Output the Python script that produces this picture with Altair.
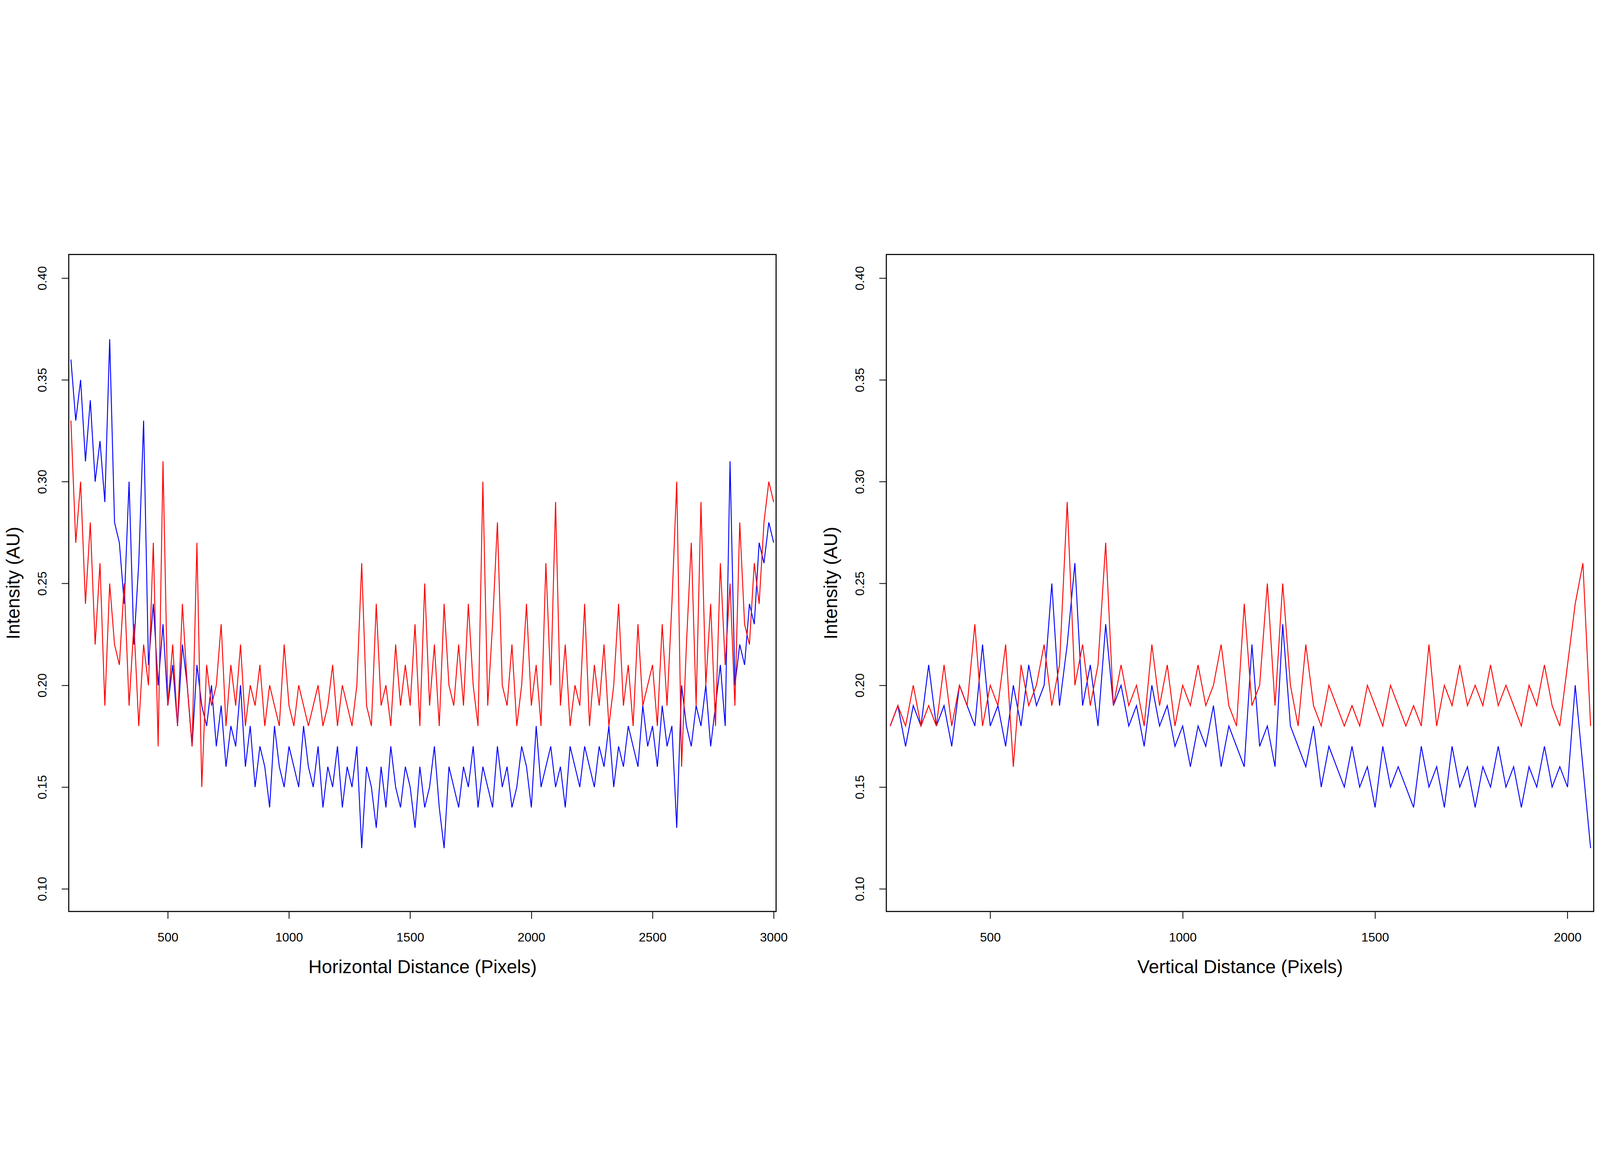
import altair as alt
import pandas as pd

# horizontal profile, sampled every 20 px from 100 to 3000
h_start, h_step = 100, 20
h_blue = [
    0.36, 0.33, 0.35, 0.31, 0.34, 0.30, 0.32, 0.29, 0.37, 0.28,
    0.27, 0.24, 0.30, 0.22, 0.26, 0.33, 0.21, 0.24, 0.20, 0.23,
    0.19, 0.21, 0.18, 0.22, 0.20, 0.17, 0.21, 0.19, 0.18, 0.20,
    0.17, 0.19, 0.16, 0.18, 0.17, 0.20, 0.16, 0.18, 0.15, 0.17,
    0.16, 0.14, 0.18, 0.16, 0.15, 0.17, 0.16, 0.15, 0.18, 0.16,
    0.15, 0.17, 0.14, 0.16, 0.15, 0.17, 0.14, 0.16, 0.15, 0.17,
    0.12, 0.16, 0.15, 0.13, 0.16, 0.14, 0.17, 0.15, 0.14, 0.16,
    0.15, 0.13, 0.16, 0.14, 0.15, 0.17, 0.14, 0.12, 0.16, 0.15,
    0.14, 0.16, 0.15, 0.17, 0.14, 0.16, 0.15, 0.14, 0.17, 0.15,
    0.16, 0.14, 0.15, 0.17, 0.16, 0.14, 0.18, 0.15, 0.16, 0.17,
    0.15, 0.16, 0.14, 0.17, 0.16, 0.15, 0.17, 0.16, 0.15, 0.17,
    0.16, 0.18, 0.15, 0.17, 0.16, 0.18, 0.17, 0.16, 0.19, 0.17,
    0.18, 0.16, 0.19, 0.17, 0.18, 0.13, 0.20, 0.18, 0.17, 0.19,
    0.18, 0.20, 0.17, 0.19, 0.21, 0.18, 0.31, 0.20, 0.22, 0.21,
    0.24, 0.23, 0.27, 0.26, 0.28, 0.27,
]
h_red = [
    0.33, 0.27, 0.30, 0.24, 0.28, 0.22, 0.26, 0.19, 0.25, 0.22,
    0.21, 0.25, 0.19, 0.23, 0.18, 0.22, 0.20, 0.27, 0.17, 0.31,
    0.19, 0.22, 0.18, 0.24, 0.20, 0.17, 0.27, 0.15, 0.21, 0.19,
    0.20, 0.23, 0.18, 0.21, 0.19, 0.22, 0.18, 0.20, 0.19, 0.21,
    0.18, 0.20, 0.19, 0.18, 0.22, 0.19, 0.18, 0.20, 0.19, 0.18,
    0.19, 0.20, 0.18, 0.19, 0.21, 0.18, 0.20, 0.19, 0.18, 0.20,
    0.26, 0.19, 0.18, 0.24, 0.19, 0.20, 0.18, 0.22, 0.19, 0.21,
    0.19, 0.23, 0.18, 0.25, 0.19, 0.22, 0.18, 0.24, 0.20, 0.19,
    0.22, 0.19, 0.24, 0.20, 0.18, 0.30, 0.19, 0.23, 0.28, 0.20,
    0.19, 0.22, 0.18, 0.20, 0.24, 0.19, 0.21, 0.18, 0.26, 0.20,
    0.29, 0.19, 0.22, 0.18, 0.20, 0.19, 0.24, 0.18, 0.21, 0.19,
    0.22, 0.18, 0.20, 0.24, 0.19, 0.21, 0.18, 0.23, 0.19, 0.20,
    0.21, 0.18, 0.23, 0.19, 0.24, 0.30, 0.16, 0.22, 0.27, 0.19,
    0.29, 0.20, 0.24, 0.18, 0.26, 0.21, 0.25, 0.19, 0.28, 0.23,
    0.22, 0.26, 0.24, 0.28, 0.30, 0.29,
]

# vertical profile, sampled every 20 px from 240 to 2060
v_start, v_step = 240, 20
v_blue = [
    0.18, 0.19, 0.17, 0.19, 0.18, 0.21, 0.18, 0.19, 0.17, 0.20,
    0.19, 0.18, 0.22, 0.18, 0.19, 0.17, 0.20, 0.18, 0.21, 0.19,
    0.20, 0.25, 0.19, 0.22, 0.26, 0.19, 0.21, 0.18, 0.23, 0.19,
    0.20, 0.18, 0.19, 0.17, 0.20, 0.18, 0.19, 0.17, 0.18, 0.16,
    0.18, 0.17, 0.19, 0.16, 0.18, 0.17, 0.16, 0.22, 0.17, 0.18,
    0.16, 0.23, 0.18, 0.17, 0.16, 0.18, 0.15, 0.17, 0.16, 0.15,
    0.17, 0.15, 0.16, 0.14, 0.17, 0.15, 0.16, 0.15, 0.14, 0.17,
    0.15, 0.16, 0.14, 0.17, 0.15, 0.16, 0.14, 0.16, 0.15, 0.17,
    0.15, 0.16, 0.14, 0.16, 0.15, 0.17, 0.15, 0.16, 0.15, 0.20,
    0.16, 0.12,
]
v_red = [
    0.18, 0.19, 0.18, 0.20, 0.18, 0.19, 0.18, 0.21, 0.18, 0.20,
    0.19, 0.23, 0.18, 0.20, 0.19, 0.22, 0.16, 0.21, 0.19, 0.20,
    0.22, 0.19, 0.21, 0.29, 0.20, 0.22, 0.19, 0.21, 0.27, 0.19,
    0.21, 0.19, 0.20, 0.18, 0.22, 0.19, 0.21, 0.18, 0.20, 0.19,
    0.21, 0.19, 0.20, 0.22, 0.19, 0.18, 0.24, 0.19, 0.20, 0.25,
    0.19, 0.25, 0.20, 0.18, 0.22, 0.19, 0.18, 0.20, 0.19, 0.18,
    0.19, 0.18, 0.20, 0.19, 0.18, 0.20, 0.19, 0.18, 0.19, 0.18,
    0.22, 0.18, 0.20, 0.19, 0.21, 0.19, 0.20, 0.19, 0.21, 0.19,
    0.20, 0.19, 0.18, 0.20, 0.19, 0.21, 0.19, 0.18, 0.21, 0.24,
    0.26, 0.18,
]

FONT = "Liberation Sans"
Y_DOMAIN = [0.0889, 0.4116]


def profile(start, step, values):
    return pd.DataFrame({"pos": [start + step * i for i in range(len(values))], "val": values})


def panel(blue, red, start, step, x_domain, x_ticks, x_title):
    x = alt.X("pos:Q", scale=alt.Scale(domain=x_domain, nice=False, zero=False),
              axis=alt.Axis(values=x_ticks, format="d", title=x_title, titlePadding=55, labelPadding=48))
    y = alt.Y("val:Q", scale=alt.Scale(domain=Y_DOMAIN, nice=False, zero=False),
              axis=alt.Axis(values=[0.10, 0.15, 0.20, 0.25, 0.30, 0.35, 0.40], format=".2f",
                            title="Intensity (AU)", labelAngle=270, labelPadding=47,
                            minExtent=121, maxExtent=121, titlePadding=50))
    b = alt.Chart(profile(start, step, blue)).mark_line(color="#0000FF", strokeWidth=3.5).encode(x=x, y=y)
    r = alt.Chart(profile(start, step, red)).mark_line(color="#FF0000", strokeWidth=3.5).encode(x=x, y=y)
    return (b + r).properties(width=2663, height=2473)


left = panel(h_blue, h_red, h_start, h_step, [91, 3010], [500, 1000, 1500, 2000, 2500, 3000],
             "Horizontal Distance (Pixels)")
right = panel(v_blue, v_red, v_start, v_step, [230, 2068], [500, 1000, 1500, 2000],
              "Vertical Distance (Pixels)")

chart = (
    alt.hconcat(left, right, spacing=125)
    .properties(padding={"left": 3, "top": 244, "right": 10, "bottom": 10}, background="white")
    .configure_view(stroke="black", strokeWidth=4)
    .configure_axis(domain=False, grid=False, tickSize=27, tickWidth=3, tickColor="black",
                    labelFont=FONT, labelFontSize=47, labelColor="black",
                    titleFont=FONT, titleFontSize=70, titleFontWeight="normal", titleColor="black")
)

chart.save("out.html", embed_options={"renderer": "svg", "actions": False})
